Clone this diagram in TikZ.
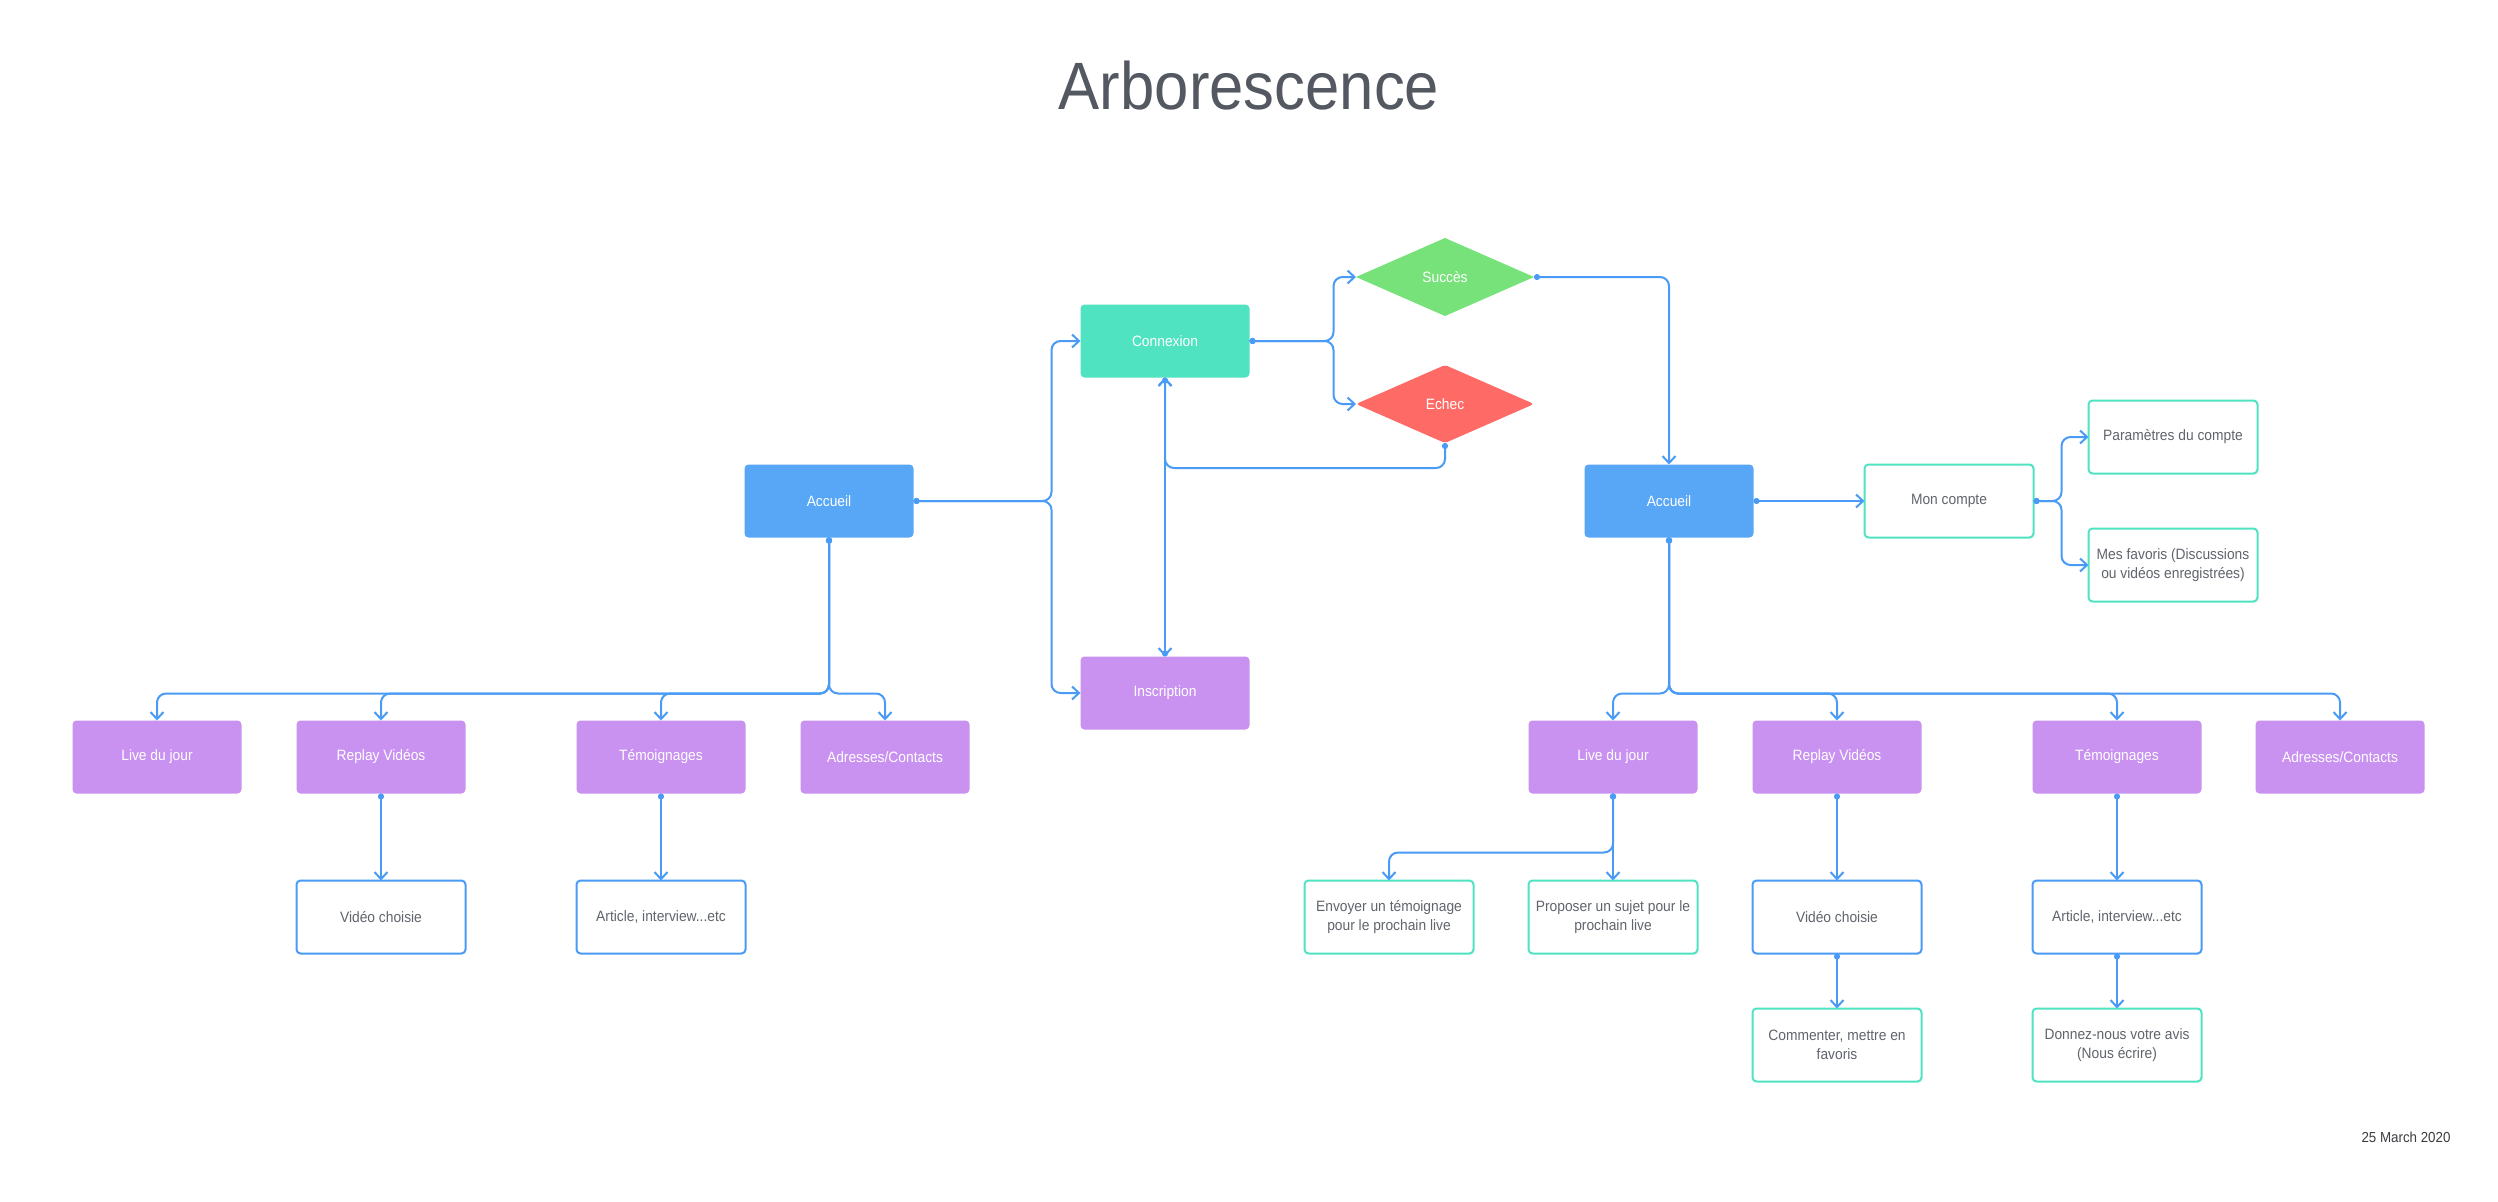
\documentclass[tikz,border=0pt]{standalone}
\usepackage{fontspec}
\setmainfont[FakeStretch=0.92]{Liberation Sans}
\usetikzlibrary{arrows.meta,shapes.geometric}

\definecolor{linkblue}{RGB}{74,155,245}
\definecolor{homeblue}{RGB}{88,167,247}
\definecolor{tealbox}{RGB}{80,227,194}
\definecolor{purplebox}{RGB}{201,146,240}
\definecolor{greenbox}{RGB}{120,226,122}
\definecolor{redbox}{RGB}{254,106,101}
\definecolor{titlegray}{RGB}{84,88,97}
\definecolor{textgray}{RGB}{96,100,108}
\definecolor{dategray}{RGB}{60,60,64}

\tikzset{
  box/.style={rectangle, rounded corners=4pt, minimum width=169pt, minimum height=73pt,
    inner sep=0pt, outer sep=0pt, align=center, font=\fontsize{15}{18.5}\selectfont},
  homebox/.style={box, fill=homeblue, text=white},
  linkbox/.style={box, fill=tealbox, text=white},
  pagebox/.style={box, fill=purplebox, text=white},
  bluecard/.style={box, fill=white, draw=linkblue, line width=2pt, text=textgray},
  tealcard/.style={box, fill=white, draw=tealbox, line width=2pt, text=textgray},
  decision/.style={diamond, minimum width=178pt, minimum height=78pt, inner sep=0pt,
    outer sep=0pt, text=white, font=\fontsize{15}{18.5}\selectfont},
  conn/.style={draw=linkblue, line width=2pt, rounded corners=9pt,
    {Circle[length=6pt]}-{Straight Barb[length=7pt,width=13pt,line width=2pt]}},
}

\begin{document}
\begin{tikzpicture}[x=1pt,y=-1pt]
\useasboundingbox[fill=white] (0,0) rectangle (2498,1202);

% heading and date
\node[anchor=base, text=titlegray, font=\fontsize{67}{72}\selectfont] (title) at (1249,109) {Arborescence};
\node[anchor=base, text=dategray, font=\fontsize{14.5}{17}\selectfont] (date) at (2406,1142) {25 March 2020};

% ---------- visitor side ----------
\node[homebox] (accL) at (829,501) {Accueil};
\node[linkbox] (conn) at (1165,341) {Connexion};
\node[pagebox] (insc) at (1165,693) {Inscription};
\node[decision, fill=greenbox] (succ) at (1445,277) {Succès};
\node[decision, fill=redbox, rounded corners=3pt] (echec) at (1445,404) {Echec};

\node[pagebox] (liveL) at (157,757) {Live du jour};
\node[pagebox] (replL) at (381,757) {Replay Vidéos};
\node[pagebox] (temoL) at (661,757) {Témoignages};
\node[pagebox] (adrL)  at (885,757) {Adresses/Contacts};

\node[bluecard] (vidL) at (381,917) {Vidéo choisie};
\node[bluecard] (artL) at (661,917) {Article, interview...etc};

% ---------- member side ----------
\node[homebox] (accR) at (1669,501) {Accueil};
\node[tealcard] (mon) at (1949,501) {Mon compte};
\node[tealcard] (param) at (2173,437) {Paramètres du compte};
\node[tealcard] (fav) at (2173,565) {Mes favoris (Discussions\\ou vidéos enregistrées)};

\node[pagebox] (liveR) at (1613,757) {Live du jour};
\node[pagebox] (replR) at (1837,757) {Replay Vidéos};
\node[pagebox] (temoR) at (2117,757) {Témoignages};
\node[pagebox] (adrR)  at (2340,757) {Adresses/Contacts};

\node[tealcard] (envoy) at (1389,917) {Envoyer un témoignage\\pour le prochain live};
\node[tealcard] (prop)  at (1613,917) {Proposer un sujet pour le\\prochain live};
\node[bluecard] (vidR)  at (1837,917) {Vidéo choisie};
\node[bluecard] (artR)  at (2117,917) {Article, interview...etc};
\node[tealcard] (comm)  at (1837,1045) {Commenter, mettre en\\favoris};
\node[tealcard] (avis)  at (2117,1045) {Donnez-nous votre avis\\(Nous écrire)};

% ---------- connectors ----------
\draw[conn] (accL.east) -- ++(138,0) |- (conn.west);
\draw[conn] (accL.east) -- ++(138,0) |- (insc.west);
\draw[conn] (conn.east) -- ++(84,0) |- (succ.west);
\draw[conn] (conn.east) -- ++(84,0) |- (echec.west);
\draw[conn] (echec.south) -- ++(0,25) -| (conn.south);
\draw[conn] (conn.south) -- (insc.north);
\draw[conn] (insc.north) -- (conn.south);

\draw[conn] (accL.south) -- ++(0,156) -| (liveL.north);
\draw[conn] (accL.south) -- ++(0,156) -| (replL.north);
\draw[conn] (accL.south) -- ++(0,156) -| (temoL.north);
\draw[conn] (accL.south) -- ++(0,156) -| (adrL.north);
\draw[conn] (replL.south) -- (vidL.north);
\draw[conn] (temoL.south) -- (artL.north);

\draw[conn] (succ.east) -| (accR.north);
\draw[conn] (accR.east) -- (mon.west);
\draw[conn] (mon.east) -- ++(28,0) |- (param.west);
\draw[conn] (mon.east) -- ++(28,0) |- (fav.west);

\draw[conn] (accR.south) -- ++(0,156) -| (liveR.north);
\draw[conn] (accR.south) -- ++(0,156) -| (replR.north);
\draw[conn] (accR.south) -- ++(0,156) -| (temoR.north);
\draw[conn] (accR.south) -- ++(0,156) -| (adrR.north);

\draw[conn] (liveR.south) -- ++(0,59) -| (envoy.north);
\draw[conn] (liveR.south) -- (prop.north);
\draw[conn] (replR.south) -- (vidR.north);
\draw[conn] (temoR.south) -- (artR.north);
\draw[conn] (vidR.south) -- (comm.north);
\draw[conn] (artR.south) -- (avis.north);
\end{tikzpicture}
\end{document}
